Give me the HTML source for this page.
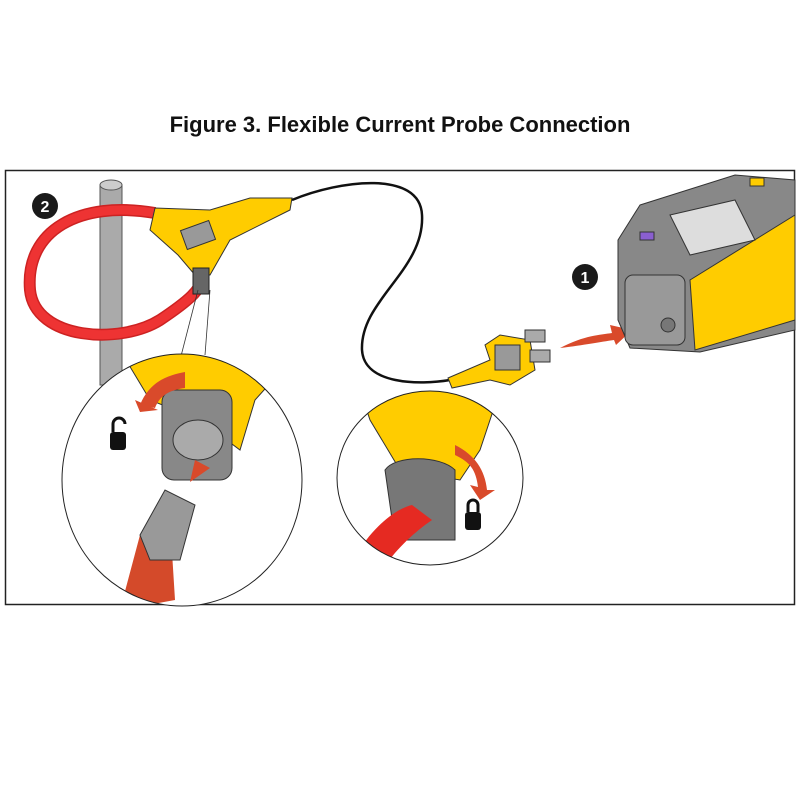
<!DOCTYPE html>
<html><head><style>
body{margin:0;background:#fff;width:800px;height:800px;overflow:hidden}
.t{position:absolute;top:112px;left:0;width:800px;text-align:center;font:bold 22px "Liberation Sans",sans-serif;color:#111}
svg{position:absolute;left:0;top:0}
</style></head><body>
<div class="t">Figure 3. Flexible Current Probe Connection</div>
<svg width="800" height="800" viewBox="0 0 800 800">
<rect x="5.5" y="170.5" width="789" height="434" fill="none" stroke="#222" stroke-width="1.5"/>
<!-- pole -->
<rect x="100" y="185" width="22" height="200" fill="#aaa" stroke="#555"/>
<ellipse cx="111" cy="185" rx="11" ry="5" fill="#ccc" stroke="#555"/>
<!-- red loop -->
<path d="M155 213 C80 200 25 230 30 290 C35 340 120 345 160 320 C190 300 200 290 203 278" fill="none" stroke="#c22" stroke-width="12"/>
<path d="M155 213 C80 200 25 230 30 290 C35 340 120 345 160 320 C190 300 200 290 203 278" fill="none" stroke="#e33" stroke-width="9"/>
<!-- yellow head -->
<path d="M155 208 L150 230 L178 255 L195 275 L210 275 L230 240 L290 210 L292 198 L250 198 L210 210 Z" fill="#ffcc00" stroke="#333"/>
<rect x="183" y="225" width="30" height="20" fill="#999" stroke="#333" transform="rotate(-20 198 235)"/>
<rect x="193" y="268" width="16" height="26" fill="#666" stroke="#222"/>
<!-- cable -->
<path d="M292 200 C340 180 420 170 422 215 C425 270 360 300 362 350 C364 385 420 385 450 380" fill="none" stroke="#111" stroke-width="2.5"/>
<!-- plug -->
<path d="M448 378 L490 360 L485 345 L500 335 L530 340 L535 370 L510 385 L490 380 L452 388 Z" fill="#ffcc00" stroke="#333"/>
<rect x="495" y="345" width="25" height="25" fill="#999" stroke="#333"/>
<rect x="525" y="330" width="20" height="12" fill="#aaa" stroke="#333"/>
<rect x="530" y="350" width="20" height="12" fill="#aaa" stroke="#333"/>
<!-- arrow 1 -->
<path d="M560 348 C585 335 600 335 612 333 L610 325 L632 330 L616 345 L614 340 C600 342 585 345 560 348 Z" fill="#d94a2b"/>
<circle cx="585" cy="277" r="13" fill="#1a1a1a"/>
<text x="585" y="283" text-anchor="middle" font-family="Liberation Sans" font-weight="bold" font-size="16" fill="#fff">1</text>
<circle cx="45" cy="206" r="13" fill="#1a1a1a"/>
<text x="45" y="212" text-anchor="middle" font-family="Liberation Sans" font-weight="bold" font-size="16" fill="#fff">2</text>
<!-- device -->
<path d="M640 205 L735 175 L795 180 L795 330 L700 352 L630 348 L618 320 L618 240 Z" fill="#888" stroke="#333"/>
<path d="M690 280 L795 215 L795 320 L695 350 Z" fill="#ffcc00" stroke="#333"/>
<path d="M670 215 L735 200 L755 240 L690 255 Z" fill="#ddd" stroke="#333"/>
<rect x="640" y="232" width="14" height="8" fill="#8a5fd0" stroke="#333"/>
<rect x="750" y="178" width="14" height="8" fill="#ffcc00" stroke="#333"/>
<rect x="625" y="275" width="60" height="70" rx="8" fill="#999" stroke="#333"/>
<circle cx="668" cy="325" r="7" fill="#777" stroke="#333"/>
<!-- leader lines -->
<line x1="198" y1="290" x2="180" y2="360" stroke="#333" stroke-width="0.8"/>
<line x1="210" y1="290" x2="205" y2="355" stroke="#333" stroke-width="0.8"/>
<defs>
<clipPath id="c1"><ellipse cx="182" cy="480" rx="120" ry="126"/></clipPath>
<clipPath id="c2"><ellipse cx="430" cy="478" rx="93" ry="87"/></clipPath>
</defs>
<g clip-path="url(#c1)">
<rect x="60" y="350" width="250" height="260" fill="#fff"/>
<path d="M120 350 L300 350 L255 400 L240 450 L200 420 L150 400 Z" fill="#ffcc00" stroke="#333"/>
<rect x="162" y="390" width="70" height="90" rx="12" fill="#888" stroke="#333"/>
<ellipse cx="198" cy="440" rx="25" ry="20" fill="#aaa" stroke="#333"/>
<path d="M120 610 L140 535 L170 520 L175 600 Z" fill="#d44a2a"/>
<path d="M140 535 L165 490 L195 505 L180 560 L150 560 Z" fill="#999" stroke="#333"/>
<path d="M140 405 C150 380 170 375 185 372 L185 388 C170 390 160 395 155 408 Z" fill="#d94a2b"/>
<path d="M135 400 L158 410 L140 412 Z" fill="#d94a2b"/>
<path d="M190 482 L195 460 L210 468 Z" fill="#d94a2b"/>
<rect x="110" y="432" width="16" height="18" rx="3" fill="#111"/>
<path d="M113 432 V424 a6 6 0 0 1 12 0" fill="none" stroke="#111" stroke-width="3"/>
</g>
<ellipse cx="182" cy="480" rx="120" ry="126" fill="none" stroke="#222"/>
<g clip-path="url(#c2)">
<path d="M360 390 L500 390 L480 450 L460 480 L400 470 L370 420 Z" fill="#ffcc00" stroke="#333"/>
<path d="M385 470 C395 455 440 455 455 470 L455 540 L395 540 Z" fill="#777" stroke="#333"/>
<path d="M350 570 C360 540 390 510 412 505 L432 520 C410 535 385 560 378 580 Z" fill="#e52a22"/>
<path d="M455 445 C475 455 485 470 487 490 L495 490 L480 500 L470 485 L478 487 C476 470 470 462 455 455 Z" fill="#d94a2b"/>
<rect x="465" y="512" width="16" height="18" rx="3" fill="#111"/>
<path d="M468 512 V505 a5 5 0 0 1 10 0 V512" fill="none" stroke="#111" stroke-width="3"/>
</g>
<ellipse cx="430" cy="478" rx="93" ry="87" fill="none" stroke="#222"/>
</svg>
</body></html>
